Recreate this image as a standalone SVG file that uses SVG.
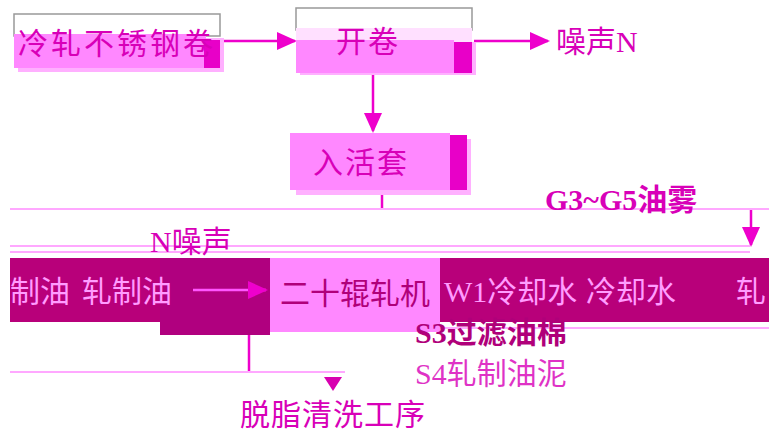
<svg xmlns="http://www.w3.org/2000/svg" width="769" height="438" viewBox="0 0 769 438">
<style>
.pink{fill:#FF88FF}
.shadow{fill:#FFB0FF}
.strip{fill:#E800C8}
.band{fill:#B8007A}
.dark{fill:#B0007F}
.outline{fill:#FFFFFF;stroke:#999999;stroke-width:1.5}
.ln{stroke:#EE00CC;stroke-width:2.5;fill:none}
.faint{stroke:#FFA8FF;stroke-width:2;fill:none}
.t{font-family:'Liberation Serif','Noto Sans CJK SC',serif;font-size:30px;fill:#D800B8}
.tl{font-family:'Liberation Serif','Noto Sans CJK SC',serif;font-size:30px;fill:#FF9CFF}
.td{font-family:'Liberation Serif','Noto Sans CJK SC',serif;font-size:30px;fill:#B0007A}
</style>
<defs>
<marker id="ahb" markerWidth="20" markerHeight="20" refX="18" refY="10" orient="auto" markerUnits="userSpaceOnUse" viewBox="0 0 20 20">
<path d="M0,1 L20,10 L0,19 z" fill="#EE00CC"/>
</marker>
</defs>
<rect width="769" height="438" fill="#FFFFFF"/>

<g id="connectors">
<path class="ln" d="M220,41 H295" marker-end="url(#ahb)"/>
<path class="ln" d="M474,41 H548" marker-end="url(#ahb)"/>
<path class="ln" d="M373,73 V131" marker-end="url(#ahb)"/>
<path class="ln" d="M382,191 V209"/>
<path class="faint" d="M10,209 H769"/>
<path class="ln" d="M751,210 V245" marker-end="url(#ahb)"/>
<path class="faint" d="M10,246 H750 M10,252 H750"/>
<path class="faint" d="M440,321 H769 M440,328 H769"/>
<path class="ln" d="M249,333 V372"/>
<path class="faint" d="M10,372 H345"/>
<path d="M324,377 L342,377 L333,391 z" fill="#D800B0"/>
</g>

<g id="node-coil">
<rect class="outline" x="14" y="14" width="206" height="22"/>
<rect class="shadow" x="18" y="38" width="206" height="34"/>
<rect class="pink" x="14" y="34" width="192" height="34"/>
<rect class="strip" x="204" y="40" width="16" height="28"/>
<text class="t" x="18" y="54" letter-spacing="3">冷轧不锈钢卷</text>
</g>

<g id="node-uncoil">
<rect class="outline" x="296" y="8" width="176" height="22"/>
<rect fill="#FFE0FF" x="296" y="28" width="176" height="14"/>
<rect class="shadow" x="300" y="42" width="176" height="33"/>
<rect class="pink" x="296" y="40" width="158" height="33"/>
<rect class="strip" x="454" y="42" width="18" height="31"/>
<text class="t" x="336" y="52" letter-spacing="2">开卷</text>
</g>

<g id="node-noise1">
<text class="t" x="556" y="52">噪声N</text>
</g>

<g id="node-looper">
<rect class="shadow" x="296" y="139" width="175" height="56"/>
<rect class="pink" x="290" y="133" width="160" height="57"/>
<rect class="strip" x="450" y="135" width="17" height="55"/>
<text class="t" x="313" y="173" letter-spacing="2">入活套</text>
</g>

<g id="node-mist">
<text class="t" x="545" y="210" font-weight="bold">G3~G5油雾</text>
</g>

<g id="node-noise2">
<text class="t" x="150" y="252" font-size="24">N噪声</text>
</g>

<g id="node-band">
<rect class="band" x="10" y="258" width="150" height="64"/>
<rect class="band" x="440" y="258" width="329" height="64"/>
</g>

<g id="node-oil">
<rect class="dark" x="160" y="258" width="110" height="77"/>
<text class="tl" x="10" y="302">制油</text>
<text class="tl" x="82" y="302">轧制油</text>
<path d="M193,290 H266" stroke="#FF55FF" stroke-width="2.5" fill="none" marker-end="url(#ahb)"/>
</g>

<g id="node-mill">
<rect class="pink" x="270" y="258" width="170" height="74"/>
<text class="td" x="280" y="304">二十辊轧机</text>
</g>

<g id="node-water">
<text class="tl" x="444" y="302" font-size="26">W1冷却水</text>
<text class="tl" x="586" y="302" font-size="26">冷却水</text>
<text class="tl" x="736" y="302">轧</text>
</g>

<g id="node-s3">
<text class="td" x="415" y="343" font-weight="bold">S3过滤油棉</text>
</g>

<g id="node-s4">
<text class="t" x="415" y="384" opacity="0.8">S4轧制油泥</text>
</g>

<g id="node-degrease">
<text class="t" x="240" y="425" letter-spacing="1">脱脂清洗工序</text>
</g>
</svg>
